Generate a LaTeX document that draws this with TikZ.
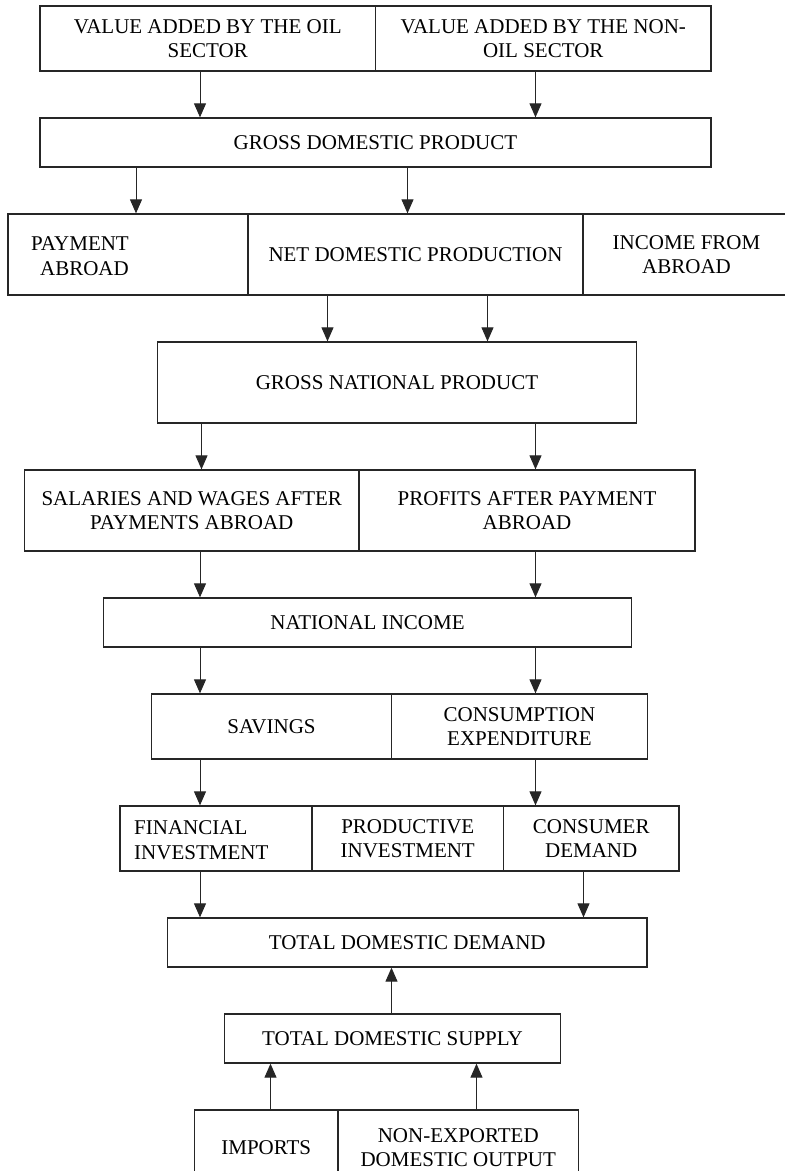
\documentclass[tikz,border=0pt]{standalone}
\usepackage{fontspec}
\setmainfont{Liberation Serif}
\usetikzlibrary{arrows.meta}
\newcommand{\cellbox}[6]{%
  \pgfmathsetmacro{\cw}{#4-#2}%
  \pgfmathsetmacro{\ch}{#5-#3}%
  \pgfmathsetmacro{\cx}{(#2+#4)/2}%
  \pgfmathsetmacro{\cy}{(#3+#5)/2}%
  \node[cellbox, minimum width=\cw pt, minimum height=\ch pt] (#1) at (\cx,\cy) {#6};%
}
\begin{document}
\begin{tikzpicture}[x=1pt,y=-1pt,
  cellbox/.style={draw=black!85, line width=1.3pt, rectangle, inner sep=0pt, align=center,
    font=\fontsize{21}{24.5}\selectfont},
  txt/.style={inner sep=0pt, font=\fontsize{21}{24.5}\selectfont},
  arr/.style={draw=black!85, line width=1pt, -{Triangle[length=14pt,width=12pt]}}]
\useasboundingbox (0,0) rectangle (785,1171);
\clip (0,0) rectangle (785,1171);
% row 1
\cellbox{oil}{40}{6}{375.5}{71}{VALUE ADDED BY THE OIL\\SECTOR}
\cellbox{nonoil}{375.5}{6}{711}{71}{VALUE ADDED BY THE NON-\\OIL SECTOR}
% row 2
\cellbox{gdp}{40}{118}{711}{167}{GROSS DOMESTIC PRODUCT}
% row 3
\cellbox{pay}{8}{214}{248}{295}{}
\node[txt, align=center] (paytxt) at (80,256) {PAYMENT\\ \hspace*{9pt}ABROAD};
\cellbox{ndp}{248}{214}{583}{295}{NET DOMESTIC PRODUCTION}
\cellbox{inc}{583}{214}{790}{295}{INCOME FROM\\ABROAD}
% row 4
\cellbox{gnp}{157.5}{342}{636.5}{423}{GROSS NATIONAL PRODUCT}
% row 5
\cellbox{sal}{24.5}{470}{359}{551}{SALARIES AND WAGES AFTER\\PAYMENTS ABROAD}
\cellbox{prof}{359}{470}{695}{551}{PROFITS AFTER PAYMENT\\ABROAD}
% row 6
\cellbox{ni}{103.5}{598}{631.5}{647}{NATIONAL INCOME}
% row 7
\cellbox{sav}{151.5}{694}{391.5}{759}{SAVINGS}
\cellbox{cons}{391.5}{694}{647.5}{759}{CONSUMPTION\\EXPENDITURE}
% row 8
\cellbox{fin}{120}{806}{312}{871}{}
\node[txt, align=left, anchor=west] (fintxt) at (134,840) {FINANCIAL\\INVESTMENT};
\cellbox{prod}{312}{806}{503.5}{871}{PRODUCTIVE\\INVESTMENT}
\cellbox{cdem}{503.5}{806}{679}{871}{CONSUMER\\DEMAND}
% row 9
\cellbox{tdd}{167.5}{918}{647}{967}{TOTAL DOMESTIC DEMAND}
% row 10
\cellbox{tds}{224.5}{1014}{560.5}{1063}{TOTAL DOMESTIC SUPPLY}
% row 11
\cellbox{imp}{194.5}{1110}{338}{1185}{IMPORTS}
\cellbox{nonexp}{338}{1110}{578.5}{1185}{NON-EXPORTED\\DOMESTIC OUTPUT}
% arrow columns
\coordinate (xa) at (200,0);
\coordinate (xb) at (535.5,0);
\coordinate (xc) at (136,0);
\coordinate (xd) at (407.5,0);
\coordinate (xe) at (327.5,0);
\coordinate (xf) at (487.5,0);
\coordinate (xg) at (201.5,0);
\coordinate (xh) at (583.5,0);
\coordinate (xi) at (391.5,0);
\coordinate (xj) at (270.5,0);
\coordinate (xk) at (476.5,0);
% arrows
\draw[arr] (oil.south -| xa) -- (gdp.north -| xa);
\draw[arr] (nonoil.south -| xb) -- (gdp.north -| xb);
\draw[arr] (gdp.south -| xc) -- (pay.north -| xc);
\draw[arr] (gdp.south -| xd) -- (ndp.north -| xd);
\draw[arr] (ndp.south -| xe) -- (gnp.north -| xe);
\draw[arr] (ndp.south -| xf) -- (gnp.north -| xf);
\draw[arr] (gnp.south -| xg) -- (sal.north -| xg);
\draw[arr] (gnp.south -| xb) -- (prof.north -| xb);
\draw[arr] (sal.south -| xa) -- (ni.north -| xa);
\draw[arr] (prof.south -| xb) -- (ni.north -| xb);
\draw[arr] (ni.south -| xa) -- (sav.north -| xa);
\draw[arr] (ni.south -| xb) -- (cons.north -| xb);
\draw[arr] (sav.south -| xa) -- (fin.north -| xa);
\draw[arr] (cons.south -| xb) -- (cdem.north -| xb);
\draw[arr] (fin.south -| xa) -- (tdd.north -| xa);
\draw[arr] (cdem.south -| xh) -- (tdd.north -| xh);
\draw[arr] (tds.north -| xi) -- (tdd.south -| xi);
\draw[arr] (imp.north -| xj) -- (tds.south -| xj);
\draw[arr] (nonexp.north -| xk) -- (tds.south -| xk);
\end{tikzpicture}
\end{document}
